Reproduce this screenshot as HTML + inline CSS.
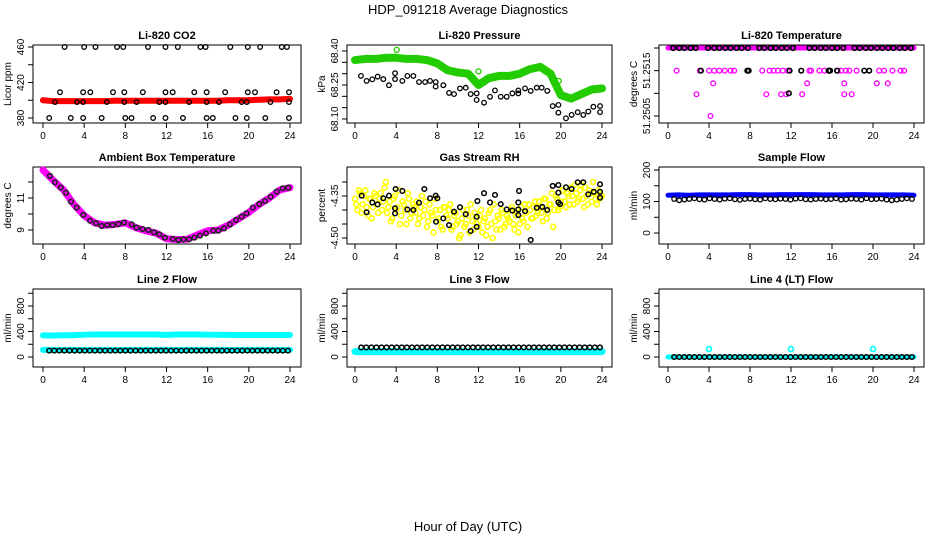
<!DOCTYPE html>
<html><head><meta charset="utf-8"><style>
html,body{margin:0;padding:0;background:#fff;}
svg{display:block;font-family:"Liberation Sans",sans-serif;}
</style></head><body>
<svg id="chart" width="936" height="540" viewBox="0 0 936 540" xmlns="http://www.w3.org/2000/svg">
<rect width="936" height="540" fill="#fff"/>
<text x="468" y="14" text-anchor="middle" font-size="13">HDP_091218  Average Diagnostics</text>
<text x="468" y="531" text-anchor="middle" font-size="13">Hour of Day (UTC)</text>
</svg>
<script>
// ---------- data ----------
const xTicks = [0,4,8,12,16,20,24];
// CO2
const co2BlackHours = [2.1,4.0,5.1,7.2,7.8,10.2,11.9,13.1,15.3,15.8,18.2,19.9,21.1,23.2,23.7, 1.65,3.9,4.6,6.8,7.9,9.7,11.9,12.6,14.7,15.9,17.7,19.9,20.6,22.7,23.9, 1.17,3.3,3.9,6.2,7.9,9.1,11.3,11.9,14.2,15.9,17.1,19.3,19.8,22.1,23.9, 0.6,2.7,3.9,5.7,8.0,8.6,10.7,11.9,13.6,15.9,16.5,18.7,19.8,21.6,23.9];
const co2BlackValues = [460,460,460,460,460,460,460,460,460,460,460,460,460,460,460, 409,409,409,409,409,409,409,409,409,409,409,409,409,409,409, 398,398,398,398,398,398,398,398,398,398,398,398,398,398,398, 380,380,380,380,380,380,380,380,380,380,380,380,380,380,380];
const co2RedValues = [400,399,399,399,399,399,399,399.5,399.5,399.5,399.5,399.5,399.5,399.5,399.5,399.5,399.5,399.5,400,400,400,400.5,401,401,401.5];
// Pressure
const presGreenValues = [68.36,68.365,68.365,68.37,68.37,68.365,68.365,68.36,68.345,68.315,68.305,68.30,68.25,68.28,68.29,68.29,68.30,68.32,68.33,68.30,68.205,68.19,68.21,68.23,68.235];
const presGreenOutHours = [4.05,12.0,19.8];
const presGreenOutValues = [68.405,68.31,68.268];
const presBlackHours = [0.58,1.13,1.68,2.2,2.75,3.3,3.89,3.89,4.6,5.09,5.67,6.22,6.81,7.29,7.84,7.84,8.58,9.14,9.62,10.2,10.76,11.24,11.82,11.82,12.54,13.12,13.6,14.16,14.74,15.29,15.87,15.87,16.52,17.07,17.66,18.14,18.68,19.21,19.76,19.76,20.5,21.05,21.64,22.18,22.67,23.16,23.81,23.81];
const presBlackValues = [68.290,68.268,68.275,68.287,68.276,68.249,68.302,68.276,68.268,68.290,68.290,68.263,68.263,68.268,68.263,68.243,68.249,68.215,68.210,68.235,68.238,68.210,68.213,68.184,68.172,68.198,68.226,68.198,68.198,68.213,68.213,68.226,68.235,68.224,68.238,68.238,68.224,68.157,68.162,68.128,68.103,68.118,68.130,68.118,68.133,68.154,68.157,68.130];
// Li-820 temperature
const tempMagTopHours = [0,24];
const tempMagTopValues = [51.2520,51.2520];
const tempMagHours = [0.84,3.11,4.02,4.5,5.0,5.54,6.12,6.45,9.2,9.91,10.3,10.72,11.2,11.69,13.8,13.96,14.77,15.26,15.74,16.55,16.88,17.36,17.69,18.4,20.6,21.09,21.9,22.7,23.03, 4.4,13.57,17.2,20.37,21.45, 2.78,9.59,11.04,11.53,13.09,17.2,17.92, 4.15];
const tempMagValues = [51.2515,51.2515,51.2515,51.2515,51.2515,51.2515,51.2515,51.2515,51.2515,51.2515,51.2515,51.2515,51.2515,51.2515,51.2515,51.2515,51.2515,51.2515,51.2515,51.2515,51.2515,51.2515,51.2515,51.2515,51.2515,51.2515,51.2515,51.2515,51.2515, 51.25122,51.25122,51.25122,51.25122,51.25122, 51.25098,51.25098,51.25098,51.25098,51.25098,51.25098,51.25098, 51.2505];
const tempBlackHours = [0.5,1.1,1.6,2.2,2.7,3.9,4.5,5.0,5.6,6.1,6.7,7.2,7.8,8.9,9.4,10.0,10.5,11.1,11.6,12.2,13.8,14.3,14.9,15.4,16.0,16.5,17.1,18.2,18.7,19.3,19.8,20.4,20.9,21.5,22.0,22.6,23.1,23.7, 3.21,7.74,7.87,11.86,13.0,15.68,15.81,16.49,19.15,19.63, 11.79];
const tempBlackValues = [51.2520,51.2520,51.2520,51.2520,51.2520,51.2520,51.2520,51.2520,51.2520,51.2520,51.2520,51.2520,51.2520,51.2520,51.2520,51.2520,51.2520,51.2520,51.2520,51.2520,51.2520,51.2520,51.2520,51.2520,51.2520,51.2520,51.2520,51.2520,51.2520,51.2520,51.2520,51.2520,51.2520,51.2520,51.2520,51.2520,51.2520,51.2520, 51.2515,51.2515,51.2515,51.2515,51.2515,51.2515,51.2515,51.2515,51.2515,51.2515, 51.2510];
// Ambient box temperature
const ambMagValues = [12.75,12.1,11.5,10.6,9.9,9.45,9.3,9.35,9.45,9.15,8.95,8.8,8.45,8.4,8.42,8.7,8.95,9.0,9.3,9.7,10.1,10.6,11.0,11.5,11.65];
const ambBlackHours = [0.68,1.16,1.72,2.23,2.72,3.27,3.92,4.57,5.15,5.7,6.25,6.77,7.32,7.87,8.62,9.1,9.68,10.24,10.79,11.3,11.85,12.6,13.15,13.64,14.19,14.71,15.25,15.84,16.55,17.04,17.59,18.17,18.75,19.3,19.79,20.38,21.02,21.57,22.12,22.71,23.29,23.84];
const ambBlackValues = [12.375,11.98,11.65,11.33,10.77,10.4,9.94,9.58,9.42,9.25,9.31,9.31,9.375,9.46,9.35,9.15,9.06,9.0,8.85,8.73,8.52,8.44,8.375,8.42,8.42,8.52,8.65,8.79,8.96,8.96,9.1,9.35,9.625,9.83,10.04,10.4,10.625,10.81,11.08,11.40,11.6,11.65];
// Gas stream RH
const rhYellowA = [-4.36,-4.40,-4.34,-4.38,-4.33,-4.42,-4.36,-4.39,-4.35,-4.41,-4.34,-4.37,-4.30,-4.39,-4.44,-4.36,-4.40,-4.33,-4.42,-4.38,-4.45,-4.36,-4.41,-4.39,-4.37,-4.43,-4.35,-4.40,-4.46,-4.38,-4.42,-4.36,-4.44,-4.40,-4.47,-4.39,-4.43,-4.38,-4.46,-4.41,-4.44,-4.49,-4.40,-4.45,-4.42,-4.38,-4.47,-4.43,-4.46,-4.40,-4.44,-4.49,-4.41,-4.45,-4.38,-4.47,-4.43,-4.40,-4.46,-4.42,-4.44,-4.39,-4.47,-4.41,-4.45,-4.43,-4.38,-4.46,-4.40,-4.43,-4.37,-4.41,-4.39,-4.44,-4.36,-4.41,-4.38,-4.46,-4.35,-4.40,-4.37,-4.33,-4.39,-4.35,-4.32,-4.38,-4.34,-4.36,-4.31,-4.39,-4.35,-4.33,-4.37,-4.34,-4.38,-4.36,-4.35];
const rhYellowB = [-4.38,-4.33,-4.41,-4.35,-4.39,-4.36,-4.43,-4.34,-4.38,-4.36,-4.40,-4.32,-4.41,-4.37,-4.43,-4.35,-4.39,-4.45,-4.37,-4.40,-4.34,-4.43,-4.38,-4.41,-4.45,-4.39,-4.42,-4.37,-4.44,-4.41,-4.48,-4.40,-4.43,-4.46,-4.39,-4.42,-4.40,-4.47,-4.42,-4.45,-4.50,-4.43,-4.46,-4.40,-4.48,-4.44,-4.41,-4.45,-4.42,-4.48,-4.43,-4.46,-4.40,-4.50,-4.44,-4.42,-4.47,-4.41,-4.45,-4.43,-4.40,-4.45,-4.42,-4.48,-4.39,-4.44,-4.41,-4.38,-4.43,-4.39,-4.42,-4.37,-4.41,-4.36,-4.43,-4.38,-4.34,-4.40,-4.36,-4.39,-4.33,-4.37,-4.34,-4.38,-4.35,-4.31,-4.37,-4.33,-4.36,-4.32,-4.38,-4.34,-4.30,-4.36,-4.33,-4.35];
const rhBlackHours = [0.65,1.13,1.68,2.2,2.75,3.3,3.89,3.89,3.95,4.6,5.09,5.67,6.22,6.74,7.29,7.84,7.87,8.0,8.58,9.14,9.62,10.2,10.76,11.24,11.82,11.82,11.89,12.54,13.12,13.6,14.16,14.74,15.29,15.87,15.87,15.87,15.94,16.52,17.07,17.66,18.2,18.68,19.21,19.76,19.76,19.76,19.92,20.5,21.05,21.64,22.18,22.67,23.2,23.81,23.81,23.81];
const rhBlackValues = [-4.349,-4.408,-4.373,-4.380,-4.358,-4.349,-4.394,-4.412,-4.325,-4.332,-4.398,-4.400,-4.374,-4.325,-4.358,-4.349,-4.442,-4.358,-4.430,-4.454,-4.406,-4.390,-4.415,-4.475,-4.424,-4.460,-4.368,-4.340,-4.373,-4.346,-4.379,-4.398,-4.402,-4.373,-4.398,-4.418,-4.332,-4.404,-4.507,-4.392,-4.389,-4.400,-4.314,-4.311,-4.338,-4.373,-4.379,-4.319,-4.325,-4.301,-4.301,-4.344,-4.335,-4.335,-4.308,-4.356];
// Flows
const sampleBlueValues = [120,121,120,121,121,121,121,122,122,121,121,122,122,122,122,121,121,121,122,122,121,121,121,121,120];
const sampleBlackValues = [108,104,106,108,110,107,106,110,108,106,109,110,107,105,108,109,107,106,110,108,107,109,108,106,109,110,107,106,108,109,107,108,110,106,107,109,108,106,110,107,108,109,106,104,106,108,110,108];
const line2CyanHigh = [340,338,342,342,350,352,352,352,352,352,352,352,348,352,352,352,350,350,348,346,345,345,345,345,345];
const line2CyanLow = [112,112,112,112,112,112,112,112,112,112,112,112,112,112,112,112,112,112,112,112,112,112,112,112,112];
const line2BlackValues = [100,100,100,100,100,100,100,100,100,100,100,100,100,100,100,100,100,100,100,100,100,100,100,100,100,100,100,100,100,100,100,100,100,100,100,100,100,100,100,100,100,100,100,100,100,100,100,100];
const line3Cyan = [85,85,85,85,85,85,85,85,85,85,85,85,85,85,85,85,85,85,85,85,85,85,85,85,85];
const line3BlackValues = [150,150,150,150,150,150,150,150,150,150,150,150,150,150,150,150,150,150,150,150,150,150,150,150,150,150,150,150,150,150,150,150,150,150,150,150,150,150,150,150,150,150,150,150,150,150,150,150];
const line4Cyan = [0,0,0,0,0,0,0,0,0,0,0,0,0,0,0,0,0,0,0,0,0,0,0,0,0];
const line4CyanOutHours = [4.0,12.0,20.0];
const line4CyanOutValues = [125,125,125];
const line4BlackValues = [0,0,0,0,0,0,0,0,0,0,0,0,0,0,0,0,0,0,0,0,0,0,0,0,0,0,0,0,0,0,0,0,0,0,0,0,0,0,0,0,0,0,0,0,0,0,0,0];

// ---------- drawing ----------
const NS = 'http://www.w3.org/2000/svg';
const svg = document.getElementById('chart');
const colLeft = [33,347,659], colRight = [301,612,924], colX0 = [43,355,668], colX24 = [290,602,914];
const rowTop = [45,167,289], rowBot = [123,244,367];

function mk(tag, attrs, parent){
  const e = document.createElementNS(NS, tag);
  for (const k in attrs) e.setAttribute(k, attrs[k]);
  (parent||svg).appendChild(e);
  return e;
}
function makePanel(name, col, row, title, ylab, v0, y0, v1, y1, ticks, labels, fmt){
  const g = mk('g', {});
  
  
  const xs = h => colX0[col] + (colX24[col]-colX0[col]) * h / 24;
  const ys = v => y0 + (v - v0) * (y1 - y0) / (v1 - v0);
  const L = colLeft[col], R = colRight[col], T = rowTop[row], B = rowBot[row];
  const box = mk('rect', {x:L, y:T, width:R-L, height:B-T, fill:'none', stroke:'#000', 'stroke-width':1}, g);
  
  
  const t = mk('text', {x:(L+R)/2, y:T-6, 'text-anchor':'middle', 'font-size':11, 'font-weight':'bold'}, g);
  t.textContent = title;
  
  
  const yl = mk('text', {transform:`translate(${L-22},${(T+B)/2}) rotate(-90)`, 'text-anchor':'middle', 'font-size':10}, g);
  yl.textContent = ylab;
  
  
  // x axis
  xTicks.forEach(h => {
    const x = xs(h);
    const tk = mk('line', {x1:x, x2:x, y1:B, y2:B+5, stroke:'#000'}, g);
    
    
    const lb = mk('text', {x:x, y:B+16, 'text-anchor':'middle', 'font-size':10}, g);
    lb.textContent = h;
    
    
  });
  ticks.forEach(v => {
    const y = ys(v);
    const tk = mk('line', {x1:L-5, x2:L, y1:y, y2:y, stroke:'#000'}, g);
    
    
  });
  labels.forEach(v => {
    const y = ys(v);
    const lb = mk('text', {transform:`translate(${L-9},${y}) rotate(-90)`, 'text-anchor':'middle', 'font-size':10}, g);
    lb.textContent = fmt(v);
    
    
  });
  return {g, xs, ys};
}
function band(p, name, hours, vals, color, w){
  const pts = vals.map((v,i) => p.xs(hours[i]) + ',' + p.ys(v)).join(' ');
  const pl = mk('polyline', {points:pts, fill:'none', stroke:color, 'stroke-width':w, 'stroke-linejoin':'round', 'stroke-linecap':'round'}, p.g);
  
  
}
function pts(p, name, hours, vals, color, r, sw){
  vals.forEach((v,i) => {
    const c = mk('circle', {cx:p.xs(hours[i]), cy:p.ys(v), r:r||2.3, fill:'none', stroke:color, 'stroke-width':sw||1.3}, p.g);
    
    
  });
}
const hourly = Array.from({length:25}, (_,i) => i);
const half = n => Array.from({length:n}, (_,i) => 0.6 + i * 23.2 / (n-1));
const quarter = (n, off) => Array.from({length:n}, (_,i) => off + i * 0.25);

// CO2
let p = makePanel('co2', 0, 0, 'Li-820 CO2', 'Licor ppm', 460, 47, 380, 118, [380,400,420,440,460], [380,420,460], v => v);
band(p, 'co2-red-series', hourly, co2RedValues, '#ff0000', 6);
pts(p, 'co2-red-point', hourly, co2RedValues, '#ff0000');
pts(p, 'co2-black-point', co2BlackHours, co2BlackValues, '#000');
// Pressure
p = makePanel('pressure', 1, 0, 'Li-820 Pressure', 'kPa', 68.40, 51, 68.10, 119, [68.10,68.15,68.20,68.25,68.30,68.35,68.40], [68.10,68.25,68.40], v => v.toFixed(2));
band(p, 'pressure-green-series', hourly, presGreenValues, '#22cc00', 8);
pts(p, 'pressure-green-point', hourly, presGreenValues, '#22cc00', 2.5);
pts(p, 'pressure-green-outlier', presGreenOutHours, presGreenOutValues, '#22cc00', 2.5);
pts(p, 'pressure-black-point', presBlackHours, presBlackValues, '#000');
// Li-820 temperature
p = makePanel('li820-temp', 2, 0, 'Li-820 Temperature', 'degrees C', 51.2520, 48, 51.2505, 116, [51.2505,51.2510,51.2515,51.2520], [51.2505,51.2515], v => v.toFixed(4));
band(p, 'temp-magenta-series', tempMagTopHours, tempMagTopValues, '#ff00ff', 5);
pts(p, 'temp-magenta-point', tempMagHours, tempMagValues, '#ff00ff', 2.4);
pts(p, 'temp-black-point', tempBlackHours, tempBlackValues, '#000', 2.3, 1.6);
// Ambient
p = makePanel('ambient-temp', 0, 1, 'Ambient Box Temperature', 'degrees C', 12, 182, 9, 230, [9,10,11,12], [9,11], v => v);
band(p, 'ambient-magenta-series', hourly, ambMagValues, '#ff00ff', 7);
pts(p, 'ambient-black-point', ambBlackHours, ambBlackValues, '#222', 2.3, 1.6);
// RH
p = makePanel('gas-rh', 1, 1, 'Gas Stream RH', 'percent', -4.35, 196, -4.50, 238, [-4.50,-4.45,-4.40,-4.35,-4.30], [-4.50,-4.35], v => v.toFixed(2));
pts(p, 'rh-yellow-point', quarter(rhYellowA.length, 0), rhYellowA, '#ffff00', 2.5, 1.6);
pts(p, 'rh-yellow-point', quarter(rhYellowB.length, 0.125), rhYellowB, '#ffff00', 2.5, 1.6);
pts(p, 'rh-black-point', rhBlackHours, rhBlackValues, '#000', 2.3, 1.5);
// Sample flow
p = makePanel('sample-flow', 2, 1, 'Sample Flow', 'ml/min', 200, 170, 0, 233, [0,50,100,150,200], [0,100,200], v => v);
band(p, 'sample-blue-series', hourly, sampleBlueValues, '#0000ff', 5);
pts(p, 'sample-black-point', half(sampleBlackValues.length), sampleBlackValues, '#000');
// Line 2
p = makePanel('line2-flow', 0, 2, 'Line 2 Flow', 'ml/min', 0, 357, 800, 306, [0,200,400,600,800,1000], [0,400,800], v => v);
band(p, 'line2-cyan-high', hourly, line2CyanHigh, '#00ffff', 6);
band(p, 'line2-cyan-low', hourly, line2CyanLow, '#00ffff', 6);
pts(p, 'line2-black-point', half(line2BlackValues.length), line2BlackValues, '#000', 2.3, 1.5);
// Line 3
p = makePanel('line3-flow', 1, 2, 'Line 3 Flow', 'ml/min', 0, 357, 800, 306, [0,200,400,600,800,1000], [0,400,800], v => v);
band(p, 'line3-cyan-series', hourly, line3Cyan, '#00ffff', 7);
pts(p, 'line3-black-point', half(line3BlackValues.length), line3BlackValues, '#000', 2.3, 1.5);
// Line 4
p = makePanel('line4-flow', 2, 2, 'Line 4 (LT) Flow', 'ml/min', 0, 357, 800, 306, [0,200,400,600,800,1000], [0,400,800], v => v);
band(p, 'line4-cyan-series', hourly, line4Cyan, '#00ffff', 5);
pts(p, 'line4-cyan-outlier', line4CyanOutHours, line4CyanOutValues, '#00ffff', 2.5, 1.6);
pts(p, 'line4-black-point', half(line4BlackValues.length), line4BlackValues, '#000', 2.3, 1.5);
</script>
</body></html>
